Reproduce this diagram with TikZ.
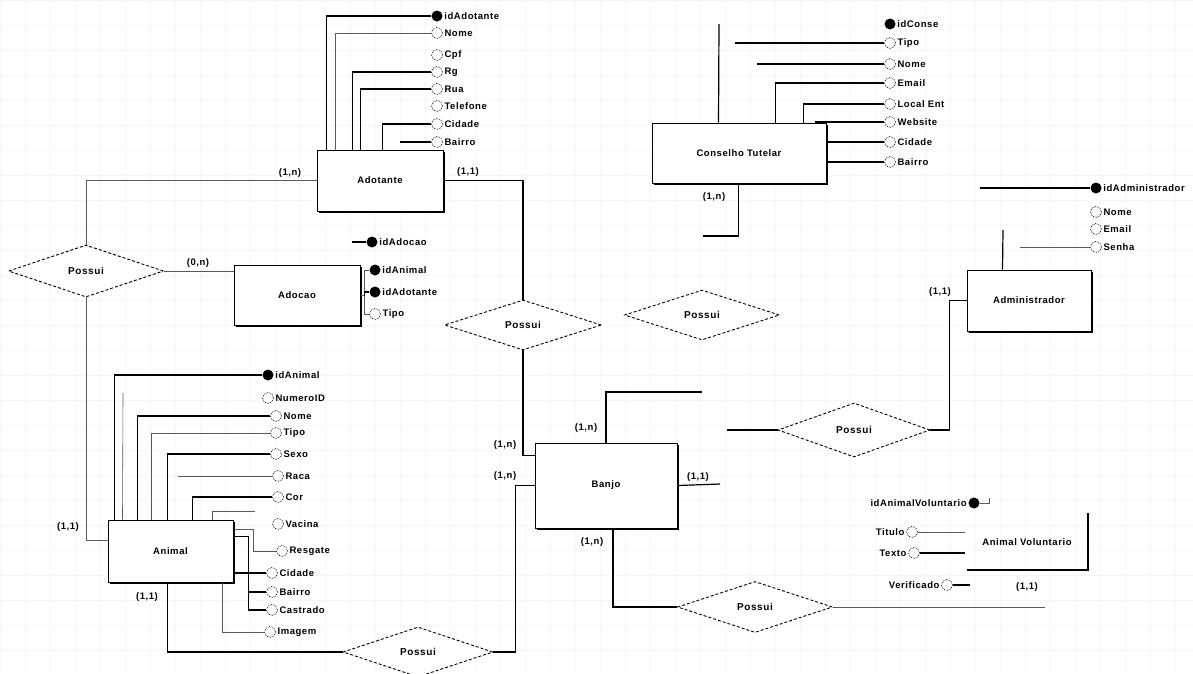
\documentclass[tikz,border=0pt]{standalone}
\usepackage{fontspec}
\setmainfont{Liberation Sans}
\newfontfamily\dfont[LetterSpace=6]{Liberation Sans}
\usetikzlibrary{shapes.geometric,shadows,calc}
\newcommand\attR[4]{\node[#1] (#2) at (#3) {}; \node[lbl,anchor=west] (#2l) at (#2.east) {#4};}
\newcommand\attL[4]{\node[#1] (#2) at (#3) {}; \node[lbl,anchor=east] (#2l) at (#2.west) {#4};}
\begin{document}
\begin{tikzpicture}[x=1pt,y=-1pt,
  lbl/.style={font=\dfont\fontsize{9.5}{10}\selectfont\bfseries, inner sep=1.5pt},
  card/.style={font=\dfont\fontsize{9.5}{10}\selectfont\bfseries, inner sep=0pt},
  entity/.style={draw,line width=1pt,fill=white,font=\dfont\fontsize{9.5}{10}\selectfont\bfseries,
     drop shadow={opacity=1,fill=black,shadow xshift=1.5pt,shadow yshift=-1.5pt}},
  rel/.style={diamond,draw,dash pattern=on 3pt off 2pt,line width=0.9pt,aspect=3,inner sep=0pt,fill=white,
     font=\dfont\fontsize{10}{11}\selectfont\bfseries},
  attrO/.style={circle,draw,densely dotted,line width=0.7pt,minimum size=11pt,inner sep=0pt,fill=white},
  attrK/.style={circle,fill=black,minimum size=11pt,inner sep=0pt},
  conn/.style={line width=1.2pt,black},
  connt/.style={line width=0.6pt,black!65},
  gridc/.style={black!3,line width=0.5pt}]
\useasboundingbox (0,0) rectangle (1193,673);
\fill[white] (0,0) rectangle (1193,673);
\foreach \gx in {0,25,...,1175} {\draw[gridc] (\gx,0) -- (\gx,673);}
\foreach \gy in {0,25,...,650} {\draw[gridc] (0,\gy) -- (1193,\gy);}

% ---------- Entities ----------
\node[entity,minimum width=126pt,minimum height=61pt] (Adotante) at (380,180.5) {Adotante};
\node[entity,minimum width=126pt,minimum height=60pt] (Adocao) at (297,295.5) {Adocao};
\node[entity,minimum width=125pt,minimum height=62pt] (Animal) at (170.5,551) {Animal};
\node[entity,minimum width=142pt,minimum height=85pt] (Banjo) at (606,485.5) {Banjo};
\node[entity,minimum width=174pt,minimum height=60pt] (Cons) at (739,153) {Conselho Tutelar};
\node[entity,minimum width=124pt,minimum height=61pt] (Admin) at (1029,300.5) {Administrador};
\node[lbl] (avT) at (1027,542) {Animal Voluntario};

% ---------- Relationships ----------
\node[rel,minimum width=155pt,minimum height=52pt] (possL) at (86,271) {Possui};
\node[rel,minimum width=157pt,minimum height=50pt] (possM) at (523,325) {Possui};
\node[rel,minimum width=155pt,minimum height=50pt] (possX) at (702,315) {Possui};
\node[rel,minimum width=150pt,minimum height=50pt] (possB) at (418,652) {Possui};
\node[rel,minimum width=155pt,minimum height=51pt] (possR) at (755,607) {Possui};
\node[rel,minimum width=152pt,minimum height=54pt] (possA) at (854,430) {Possui};

% ---------- Adotante attributes ----------
\attR{attrK}{aId}{437,16}{idAdotante}
\attR{attrO}{aNome}{437,33}{Nome}
\attR{attrO}{aCpf}{437,55}{Cpf}
\attR{attrO}{aRg}{437,72}{Rg}
\attR{attrO}{aRua}{437,89}{Rua}
\attR{attrO}{aTel}{437,106}{Telefone}
\attR{attrO}{aCid}{437,124}{Cidade}
\attR{attrO}{aBai}{437,142}{Bairro}
\draw[conn] (aId) -| ([xshift=10pt]Adotante.north west);
\draw[connt] (aNome) -| ([xshift=19pt]Adotante.north west);
\draw[conn] (aRg) -| ([xshift=36pt]Adotante.north west);
\draw[conn] (aRua) -| ([xshift=44pt]Adotante.north west);
\draw[conn] (aCid) -| ([xshift=66pt]Adotante.north west);
\coordinate (aBaiE) at (400,142);
\draw[conn] (aBaiE) -- (aBai);

% ---------- Adocao attributes ----------
\attR{attrK}{dIdA}{372,242}{idAdocao}
\attR{attrK}{dIdAn}{375,270}{idAnimal}
\attR{attrK}{dIdAd}{375,292}{idAdotante}
\attR{attrO}{dTipo}{375,314}{Tipo}
\coordinate (dc1) at (352,242);
\draw[conn] (dc1) -- (dIdA);
\draw[connt] (Adocao.east) -- ++(4,0) coordinate (dj) |- (dIdAn);
\draw[conn] (dj) |- (dIdAd);
\draw[connt] (dj) |- (dTipo);

% ---------- Animal attributes ----------
\attR{attrK}{nId}{268,375}{idAnimal}
\attR{attrO}{nNum}{268,398}{NumeroID}
\attR{attrO}{nNome}{276,416}{Nome}
\attR{attrO}{nTipo}{276,433}{Tipo}
\attR{attrO}{nSexo}{276,454}{Sexo}
\attR{attrO}{nRaca}{278,476}{Raca}
\attR{attrO}{nCor}{278,497}{Cor}
\attR{attrO}{nVac}{278,524}{Vacina}
\attR{attrO}{nRes}{282,551}{Resgate}
\attR{attrO}{nCid}{272,573}{Cidade}
\attR{attrO}{nBai}{272,592}{Bairro}
\attR{attrO}{nCas}{272,610}{Castrado}
\attR{attrO}{nImg}{270,632}{Imagem}
\draw[conn] (nId) -| ([xshift=7pt]Animal.north west);
\coordinate (n2) at (123,393);
\draw[connt] ([xshift=15pt]Animal.north west) -- (n2);
\draw[conn] (nNome) -| ([xshift=30pt]Animal.north west);
\draw[connt] (nTipo) -| ([xshift=44pt]Animal.north west);
\draw[conn] (nSexo) -| ([xshift=60pt]Animal.north west);
\coordinate (nr) at (178,476);
\draw[connt] (nr) -- (nRaca);
\draw[conn] (nCor) -| ([xshift=85pt]Animal.north west);
\coordinate (nv) at (255,511);
\draw[connt] ([xshift=105pt]Animal.north west) |- (nv);
\draw[connt] ([yshift=-10pt]Animal.north east) -- ++(20,0) |- (nRes);
\draw[conn] ([yshift=-17pt]Animal.north east) -- ++(15,0) coordinate (nj) |- (nCas);
\draw[conn] (nj) |- (nBai);
\draw[conn] (nCid) -- (Animal.east |- nCid);
\draw[connt] ([xshift=115pt]Animal.south west) |- (nImg);

% ---------- Conselho attributes ----------
\attR{attrK}{cId}{890,24}{idConse}
\attR{attrO}{cTipo}{890,43}{Tipo}
\attR{attrO}{cNome}{890,64}{Nome}
\attR{attrO}{cEmail}{890,83}{Email}
\attR{attrO}{cLocal}{890,104}{Local Ent}
\attR{attrO}{cWeb}{890,122}{Website}
\attR{attrO}{cCid}{890,142}{Cidade}
\attR{attrO}{cBai}{890,162}{Bairro}
\coordinate (cv) at (719,24);
\draw[conn] ([xshift=67pt]Cons.north west) -- (cv);
\coordinate (ct) at (735,43);
\draw[conn] (ct) -- (cTipo);
\coordinate (cn) at (757,64);
\draw[conn] (cn) -- (cNome);
\draw[conn] ([xshift=124pt]Cons.north west) |- (cEmail);
\draw[conn] ([xshift=152pt]Cons.north west) |- (cLocal);
\coordinate (cw) at (815,122);
\draw[conn] (cw) -- (cWeb);
\draw[conn] (cCid) -- (Cons.east |- cCid);
\draw[conn] (cBai) -- (Cons.east |- cBai);
\coordinate (cb) at (703,236);
\draw[conn] ([xshift=87pt]Cons.south west) |- (cb);
\node[card] (k9) at (714,197) {(1,n)};

% ---------- Administrador attributes ----------
\attR{attrK}{mId}{1096,188}{idAdministrador}
\attR{attrO}{mNome}{1096,212}{Nome}
\attR{attrO}{mEmail}{1096,229}{Email}
\attR{attrO}{mSenha}{1096,247}{Senha}
\coordinate (m1) at (980,188);
\draw[conn] (m1) -- (mId);
\coordinate (m4) at (1020,247);
\draw[connt] (m4) -- (mSenha);
\coordinate (m5) at (1003,230);
\draw[conn] ([xshift=36pt]Admin.north west) -- (m5);

% ---------- Animal Voluntario ----------
\coordinate (av1) at (1088,513);
\coordinate (av2) at (1088,570);
\coordinate (av3) at (967,570);
\draw[conn] (av1) -- (av2) -- (av3);
\attL{attrK}{vId}{974,503}{idAnimalVoluntario}
\coordinate (vb) at (989,498);
\draw[connt] (vId) -| (vb);
\attL{attrO}{vTit}{912,532}{Titulo}
\coordinate (vt) at (965,532);
\draw[connt] (vTit) -- (vt);
\attL{attrO}{vTex}{914,553}{Texto}
\coordinate (vx) at (965,553);
\draw[conn] (vTex) -- (vx);
\attL{attrO}{vVer}{947,585}{Verificado}
\coordinate (vv) at (970,585);
\draw[conn] (vVer) -- (vv);
\node[card] (k12) at (1027,587) {(1,1)};

% ---------- Relationship connectors ----------
\draw[connt] (Adotante.west) -| (possL.north);
\node[card] (k1) at (290,173) {(1,n)};
\draw[conn] (Adotante.east) -| (possM.north);
\node[card] (k2) at (468,172) {(1,1)};
\draw[connt] (possL.east) -- (Adocao.west |- possL.east);
\node[card] (k3) at (198,263) {(0,n)};
\draw[connt] (possL.south) |- ([yshift=11pt]Animal.west);
\node[card] (k4) at (68,527) {(1,1)};
\draw[conn] ([xshift=60pt]Animal.south west) |- (possB.west);
\node[card] (k5) at (147,597) {(1,1)};
\draw[conn] (possB.east) -- ++(22,0) |- (Banjo.west);
\node[card] (k6) at (505,476) {(1,n)};
\draw[conn] (possM.south) |- ([yshift=30pt]Banjo.west);
\node[card] (k7) at (505,445) {(1,n)};
\coordinate (bt) at (702,392);
\draw[conn] (Banjo.north) |- (bt);
\node[card] (k8) at (586,428) {(1,n)};
\coordinate (br) at (720,484);
\draw[conn] (Banjo.east) -- (br);
\node[card] (k10) at (698,477) {(1,1)};
\draw[conn] ([xshift=7pt]Banjo.south) |- (possR.west);
\node[card] (k11) at (592,542) {(1,n)};
\coordinate (prE) at (1045,607);
\draw[connt] (possR.east) -- (prE);
\coordinate (paW) at (727,430);
\draw[conn] (paW) -- (possA.west);
\draw[conn] (possA.east) -- ++(19,0) |- (Admin.west);
\node[card] (k13) at (940,292) {(1,1)};
\end{tikzpicture}
\end{document}
